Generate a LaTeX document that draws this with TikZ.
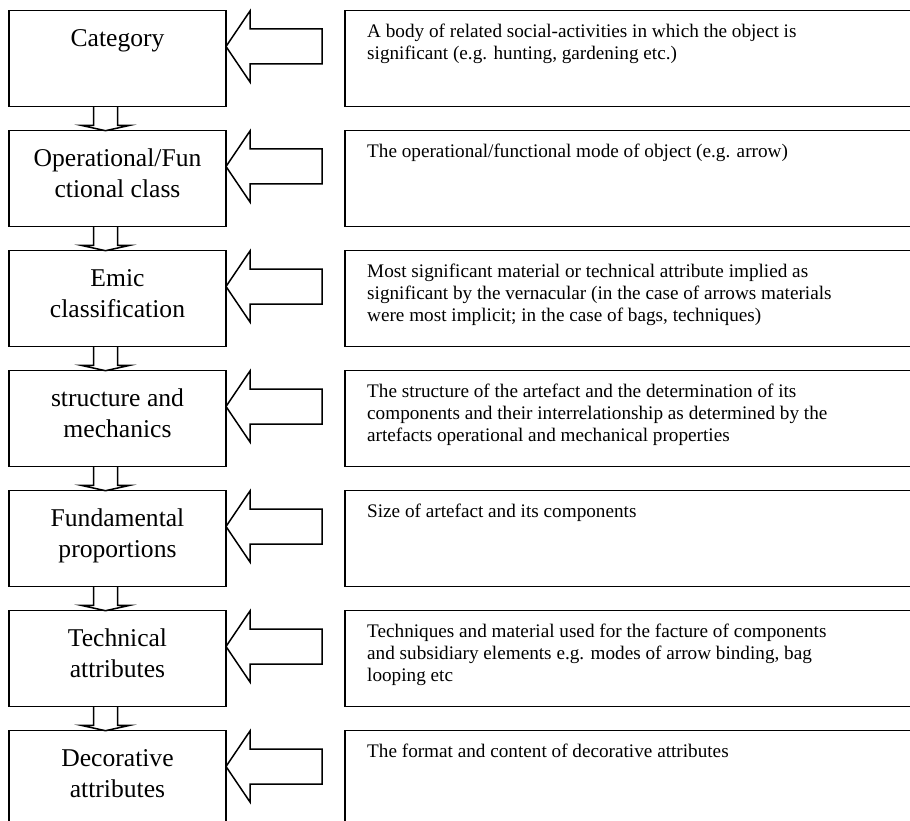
\documentclass[tikz,border=0pt]{standalone}
\usepackage{fontspec}
\setmainfont{Liberation Serif}
\usetikzlibrary{calc}

\begin{document}
\begin{tikzpicture}[x=1pt,y=-1pt,
  stage/.style={draw, line width=1.5pt, minimum width=217pt, minimum height=96pt,
    inner sep=0pt, outer sep=0pt, anchor=north west},
  note/.style={draw, line width=1.5pt, minimum width=600pt, minimum height=96pt,
    inner sep=0pt, outer sep=0pt, anchor=north west},
  stagetext/.style={inner sep=0pt, anchor=north, align=center,
    font=\fontsize{25.6}{30.5}\selectfont},
  notetext/.style={inner sep=0pt, anchor=north west, align=left,
    font=\fontsize{19.2}{22}\selectfont},
  hollow/.style={draw, line width=1.5pt, line join=miter},
]
\useasboundingbox (0,0) rectangle (910,821);
\clip (0,0) rectangle (910,821);

% stage boxes (left) and description boxes (right)
\node[stage] (s1) at (9,10.5) {};
\node[stage] (s2) at (9,130.5) {};
\node[stage] (s3) at (9,250.5) {};
\node[stage] (s4) at (9,370.5) {};
\node[stage] (s5) at (9,490.5) {};
\node[stage] (s6) at (9,610.5) {};
\node[stage] (s7) at (9,730.5) {};

\node[note] (n1) at (345,10.5) {};
\node[note] (n2) at (345,130.5) {};
\node[note] (n3) at (345,250.5) {};
\node[note] (n4) at (345,370.5) {};
\node[note] (n5) at (345,490.5) {};
\node[note] (n6) at (345,610.5) {};
\node[note] (n7) at (345,730.5) {};

% stage names
\node[stagetext] (t1) at ($(s1.north)+(0,14.65)$) {\strut Category};
\node[stagetext] (t2) at ($(s2.north)+(0,14.65)$) {\strut Operational/Fun\\ctional class};
\node[stagetext] (t3) at ($(s3.north)+(0,14.65)$) {\strut Emic\\classification};
\node[stagetext] (t4) at ($(s4.north)+(0,14.65)$) {\strut structure and\\mechanics};
\node[stagetext] (t5) at ($(s5.north)+(0,14.65)$) {\strut Fundamental\\proportions};
\node[stagetext] (t6) at ($(s6.north)+(0,14.65)$) {\strut Technical\\attributes};
\node[stagetext] (t7) at ($(s7.north)+(0,14.65)$) {\strut Decorative\\attributes};

% descriptions
\node[notetext] (d1) at ($(n1.north west)+(22,11.6)$)
  {\strut A body of related social-activities in which the object is\\significant (e.g. hunting, gardening etc.)};
\node[notetext] (d2) at ($(n2.north west)+(22,11.6)$)
  {\strut The operational/functional mode of object (e.g. arrow)};
\node[notetext] (d3) at ($(n3.north west)+(22,11.6)$)
  {\strut Most significant material or technical attribute implied as\\significant by the vernacular (in the case of arrows materials\\were most implicit; in the case of bags, techniques)};
\node[notetext] (d4) at ($(n4.north west)+(22,11.6)$)
  {\strut The structure of the artefact and the determination of its\\components and their interrelationship as determined by the\\artefacts operational and mechanical properties};
\node[notetext] (d5) at ($(n5.north west)+(22,11.6)$)
  {\strut Size of artefact and its components};
\node[notetext] (d6) at ($(n6.north west)+(22,11.6)$)
  {\strut Techniques and material used for the facture of components\\and subsidiary elements e.g. modes of arrow binding, bag\\looping etc};
\node[notetext] (d7) at ($(n7.north west)+(22,11.6)$)
  {\strut The format and content of decorative attributes};

% hollow block arrows pointing from each description to its stage
\foreach \k in {1,...,7}{
  \draw[hollow] (s\k.north east) ++(0,36) -- ++(24,-35.5) -- ++(0,18) -- ++(72,0)
    -- ++(0,35) -- ++(-72,0) -- ++(0,18) -- cycle;
}

% flat-headed hollow arrows linking consecutive stages
\foreach \k in {1,...,6}{
  \draw[hollow] (s\k.south) ++(-24,0) -- ++(0,18.8) -- ++(-12.5,0) -- ++(24.5,5.4)
    -- ++(24.5,-5.4) -- ++(-12.5,0) -- ++(0,-18.8);
}
\end{tikzpicture}
\end{document}
